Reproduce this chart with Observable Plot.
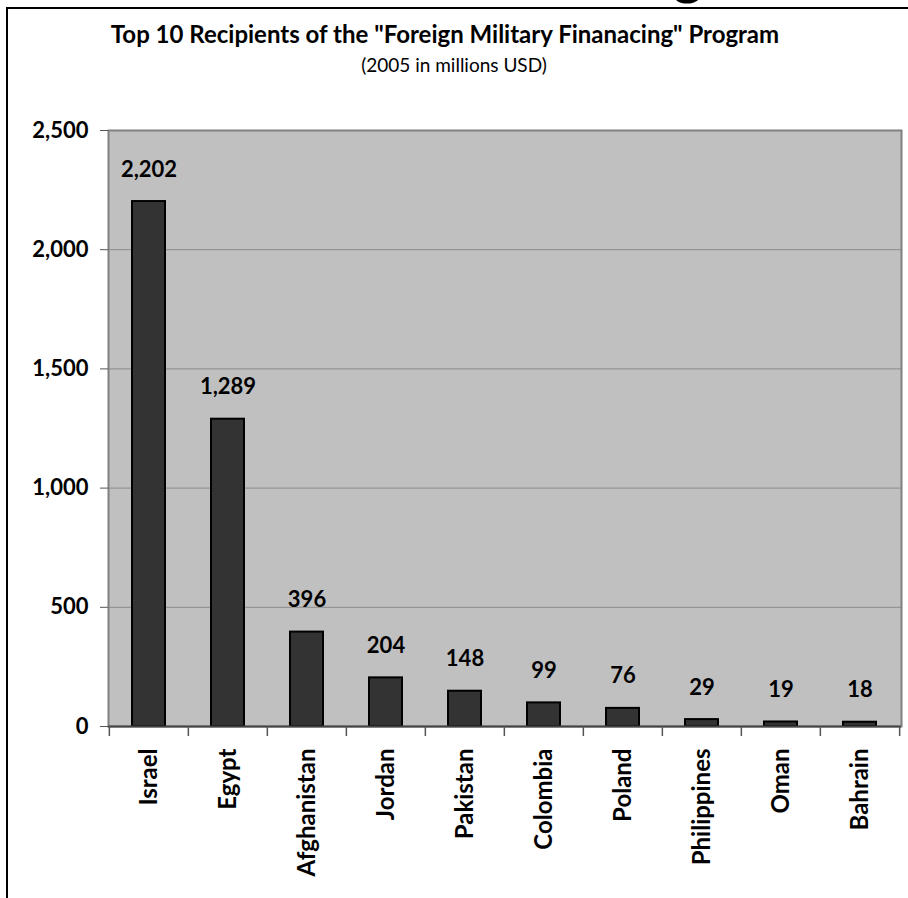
<!DOCTYPE html>
<html>
<head>
<meta charset="utf-8">
<script src="https://cdn.jsdelivr.net/npm/d3@7"></script>
<script src="https://cdn.jsdelivr.net/npm/@observablehq/plot@0.6"></script>
<style>
  html, body { margin: 0; padding: 0; background: #fff; overflow: hidden; }
  #wrap { position: relative; width: 908px; height: 898px; font-family: Lato, "DejaVu Sans", sans-serif; }
  #border { position: absolute; left: 6px; top: 7px; right: -10px; bottom: -10px; border-top: 2px solid #000; border-left: 2px solid #000; pointer-events: none; }
  #title { position: absolute; left: 0; width: 890px; top: 19px; text-align: center; font-weight: bold; font-size: 24px; line-height: normal; color: #000; white-space: nowrap; }
  #subtitle { position: absolute; left: 0; width: 908px; top: 53px; text-align: center; font-size: 19px; line-height: normal; color: #000; white-space: nowrap; }
  #cut { position: absolute; left: 0; top: 0; width: 908px; height: 7px; overflow: hidden; }
  #cut span { position: absolute; left: 673px; top: -55px; font-size: 56px; font-weight: bold; line-height: 1; }
  #chart { position: absolute; left: 0; top: 0; }
</style>
</head>
<body>
<div id="wrap">
  <div id="chart"></div>
  <div id="cut"><span>g</span></div>
  <div id="border"></div>
  <div id="title">Top 10 Recipients of the "Foreign Military Finanacing" Program</div>
  <div id="subtitle">(2005 in millions USD)</div>
</div>
<script>
const countries = ["Israel", "Egypt", "Afghanistan", "Jordan", "Pakistan", "Colombia", "Poland", "Philippines", "Oman", "Bahrain"];
const amounts = [2202, 1289, 396, 204, 148, 99, 76, 29, 19, 18];
const yTicks = [0, 500, 1000, 1500, 2000, 2500];

const data = countries.map((c, i) => ({country: c, value: amounts[i]}));

const W = 908, H = 898, mL = 108, mR = 7, mT = 130, mB = 172;
const pIn = 0.58, pOut = 0.29;
const step = (W - mL - mR) / (countries.length - pIn + 2 * pOut);
const fmt = d3.format(",");

const chart = Plot.plot({
  width: W,
  height: H,
  marginLeft: mL,
  marginRight: mR,
  marginTop: mT,
  marginBottom: mB,
  style: {background: "transparent", color: "#000", fontFamily: "Lato, 'DejaVu Sans', sans-serif"},
  x: {domain: countries, paddingInner: pIn, paddingOuter: pOut, align: 0.5},
  y: {domain: [0, 2500], nice: false},
  marks: [
    Plot.frame({fill: "#c0c0c0", stroke: null}),
    Plot.gridY(yTicks.filter(d => d > 0 && d < 2500), {stroke: "#8a8a8a", strokeOpacity: 1, strokeWidth: 1}),
    Plot.frame({stroke: "#808080", strokeWidth: 2}),
    Plot.barY(data, {x: "country", y: "value", fill: "#333333", stroke: "#000", strokeWidth: 2}),
    Plot.ruleY([0], {stroke: "#444", strokeWidth: 2}),
    Plot.text(data, {x: "country", y: "value", text: d => fmt(d.value), dy: -25, lineAnchor: "bottom", fontSize: 22, fontWeight: "bold", fill: "#000"}),
    Plot.axisY(yTicks, {tickFormat: fmt, tickSize: 8, tickPadding: 12, fontSize: 22, fontWeight: "bold", stroke: "#555", label: null}),
    Plot.axisX({tickSize: 0, tickRotate: -90, tickPadding: 22, fontSize: 24, fontWeight: "bold", label: null}),
    Plot.ruleX(countries, {x: d => d, y1: 0, y2: 0, insetBottom: -10, dx: -step / 2, stroke: "#555", strokeWidth: 1.5}),
    Plot.ruleX(countries.slice(-1), {x: d => d, y1: 0, y2: 0, insetBottom: -10, dx: step / 2, stroke: "#555", strokeWidth: 1.5})
  ]
});
document.getElementById("chart").appendChild(chart);
</script>
</body>
</html>
